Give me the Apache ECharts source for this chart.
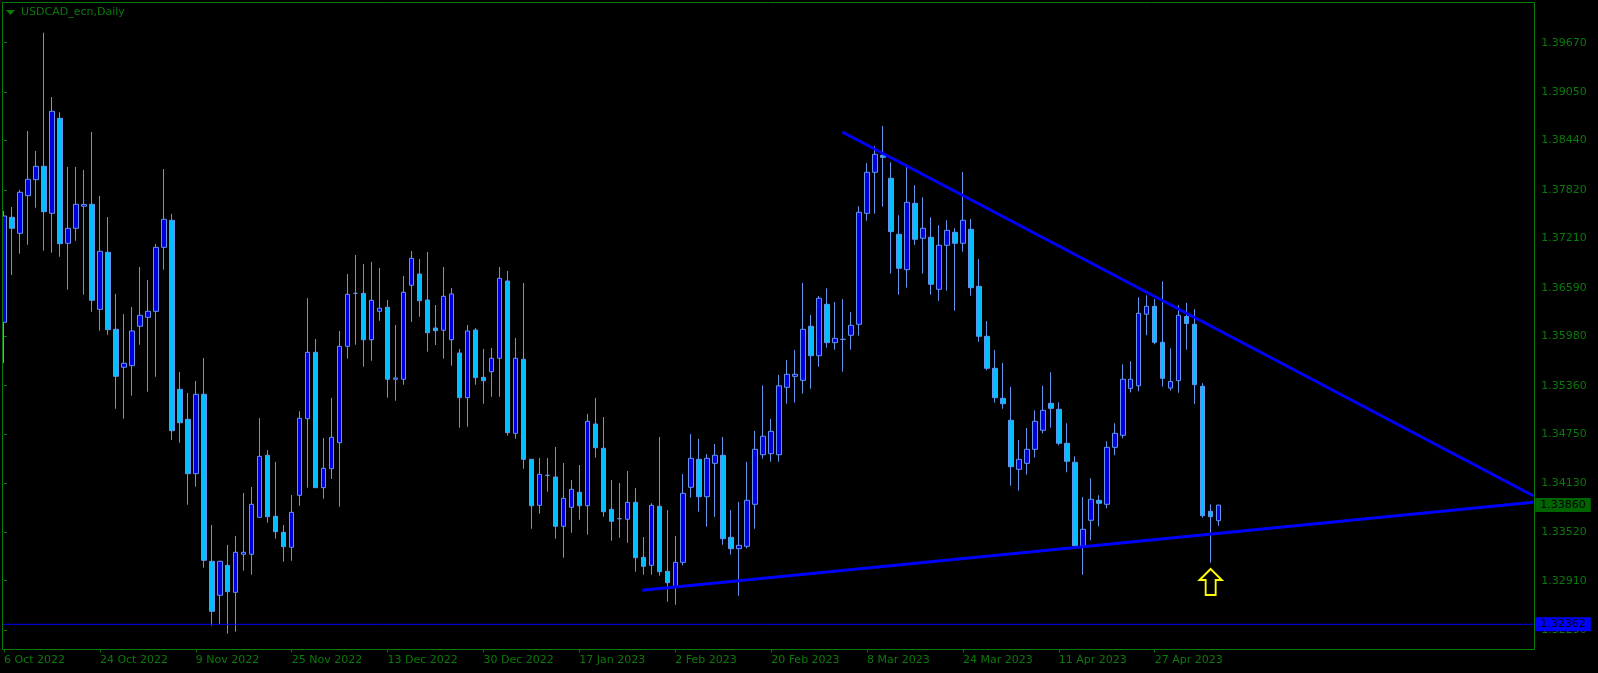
<!DOCTYPE html>
<html><head><meta charset="utf-8">
<script src="https://cdn.jsdelivr.net/npm/echarts@6/dist/echarts.min.js"></script>
<style>html,body{margin:0;padding:0;background:#000;}#c{width:1598px;height:673px;}</style>
</head><body><div id="c"></div>
<script>
const opens = [1.36157,1.37476,1.37275,1.37748,1.37949,1.38117,1.37527,1.38720,1.37150,1.37338,
1.37615,1.37640,1.36320,1.37037,1.36069,1.35592,1.35612,1.36107,1.36220,1.36295,
1.37099,1.37439,1.35315,1.34938,1.34255,1.35252,1.33154,1.32727,1.33103,1.32764,
1.33242,1.33242,1.33707,1.34486,1.33719,1.33518,1.33330,1.33983,1.34946,1.35780,
1.34079,1.34317,1.34644,1.35855,1.36521,1.36521,1.35938,1.36295,1.36346,1.35441,
1.35441,1.36622,1.36764,1.36437,1.36085,1.36057,1.35938,1.35771,1.35210,1.36060,
1.35466,1.35536,1.35705,1.36676,1.34762,1.35692,1.34435,1.33857,1.34234,1.34213,
1.33594,1.33832,1.34021,1.33852,1.34879,1.34574,1.33807,1.33689,1.33682,1.33895,
1.33204,1.33103,1.33845,1.33028,1.32835,1.33141,1.34084,1.34435,1.33965,1.34385,
1.34486,1.33455,1.33312,1.33342,1.33870,1.34493,1.34506,1.34493,1.35340,1.35478,
1.35428,1.36107,1.35737,1.36383,1.35901,1.35943,1.35994,1.36132,1.37527,1.38042,
1.38256,1.37967,1.37263,1.36818,1.37652,1.37213,1.37225,1.36572,1.37125,1.37288,
1.37150,1.37326,1.36609,1.35981,1.35579,1.35202,1.34926,1.34310,1.34385,1.34561,
1.34800,1.35139,1.35064,1.34637,1.34398,1.33350,1.33669,1.33920,1.33870,1.34586,
1.34737,1.35327,1.35359,1.36258,1.36358,1.35906,1.35331,1.35423,1.36230,1.36132,
1.35353,1.33782,1.33664];
const highs = [1.37556,1.37606,1.37820,1.38561,1.38310,1.39796,1.38988,1.38796,1.38109,1.38109,
1.38071,1.38548,1.37744,1.37480,1.36513,1.36261,1.36349,1.36852,1.36689,1.37141,
1.38083,1.37518,1.35532,1.35269,1.35419,1.35708,1.33610,1.33160,1.33359,1.33472,
1.34012,1.34087,1.34954,1.34552,1.34402,1.33610,1.33987,1.35039,1.36462,1.35947,
1.34703,1.35206,1.36048,1.36764,1.37003,1.36890,1.36915,1.36839,1.36437,1.36123,
1.36739,1.37053,1.36952,1.37040,1.36374,1.36852,1.36588,1.35822,1.36123,1.36085,
1.35822,1.35834,1.36852,1.36802,1.35960,1.36651,1.34435,1.34452,1.34452,1.34590,
1.34389,1.34175,1.34364,1.35005,1.35206,1.34967,1.34175,1.34138,1.34288,1.34075,
1.33459,1.33883,1.34716,1.33798,1.33472,1.34251,1.34753,1.34691,1.34502,1.34628,
1.34716,1.33798,1.33899,1.34402,1.34791,1.35363,1.34942,1.35495,1.35683,1.35809,
1.36651,1.36249,1.36488,1.36584,1.36412,1.36446,1.36286,1.37615,1.38155,1.38372,
1.38624,1.38168,1.37502,1.38142,1.37879,1.37728,1.37476,1.37376,1.37439,1.37338,
1.38046,1.37455,1.36949,1.36173,1.35809,1.35646,1.35346,1.34678,1.34829,1.35051,
1.35359,1.35529,1.35152,1.34888,1.34473,1.33962,1.34197,1.33983,1.34662,1.34888,
1.35629,1.35667,1.36471,1.36496,1.36446,1.36672,1.35830,1.36372,1.36400,1.36322,
1.35392,1.33870,1.33862];
const lows = [1.35642,1.36751,1.37019,1.37132,1.37597,1.37057,1.37032,1.36981,1.36567,1.37182,
1.36504,1.36290,1.36051,1.36001,1.35071,1.34946,1.35235,1.35876,1.35285,1.35473,
1.36818,1.34678,1.34644,1.33865,1.34091,1.33073,1.32345,1.32366,1.32244,1.32269,
1.33036,1.32985,1.33700,1.33639,1.33438,1.33149,1.33161,1.33852,1.34079,1.34075,
1.33940,1.34188,1.33840,1.35700,1.35876,1.35599,1.35674,1.36177,1.35210,1.35172,
1.35373,1.36161,1.36227,1.35788,1.35872,1.35700,1.35612,1.34833,1.34845,1.35373,
1.35134,1.35222,1.35222,1.34732,1.34694,1.34317,1.33563,1.33752,1.34028,1.33438,
1.33199,1.33513,1.33676,1.33488,1.34456,1.33714,1.33413,1.33450,1.33387,1.33023,
1.32985,1.32985,1.32973,1.32646,1.32608,1.33103,1.33953,1.33777,1.33589,1.33714,
1.33362,1.33237,1.32721,1.33317,1.33563,1.34443,1.34405,1.34405,1.35134,1.35147,
1.35260,1.35323,1.35599,1.35838,1.35813,1.35536,1.35813,1.35989,1.37434,1.37522,
1.37610,1.36768,1.36504,1.36592,1.37132,1.36768,1.36504,1.36428,1.36554,1.36303,
1.37044,1.36491,1.35913,1.35554,1.35147,1.35071,1.34104,1.34041,1.34242,1.34456,
1.34762,1.34833,1.34611,1.34272,1.33346,1.32985,1.33418,1.33594,1.33820,1.34486,
1.34699,1.35277,1.35290,1.35994,1.35881,1.35348,1.35298,1.35272,1.35813,1.35128,
1.33702,1.33136,1.33601];
const closes = [1.37493,1.37338,1.37791,1.37954,1.38117,1.37547,1.38808,1.37145,1.37338,1.37640,
1.37637,1.36433,1.37049,1.36064,1.35478,1.35642,1.36048,1.36245,1.36295,1.37099,
1.37451,1.34795,1.34895,1.34255,1.35252,1.33166,1.32525,1.33154,1.32772,1.33267,
1.33267,1.33870,1.34473,1.33714,1.33526,1.33337,1.33769,1.34951,1.35780,1.34079,
1.34322,1.34712,1.35855,1.36509,1.36521,1.35938,1.36433,1.36333,1.35441,1.35457,
1.36534,1.36961,1.36428,1.36026,1.36051,1.36484,1.36513,1.35210,1.36048,1.35461,
1.35423,1.35705,1.36710,1.34770,1.35705,1.34435,1.33852,1.34247,1.34234,1.33594,
1.33945,1.34058,1.33852,1.34913,1.34581,1.33777,1.33656,1.33689,1.33895,1.33199,
1.33091,1.33857,1.33023,1.32885,1.33141,1.34008,1.34448,1.33965,1.34448,1.34486,
1.33438,1.33312,1.33355,1.33920,1.34561,1.34725,1.34787,1.35359,1.35504,1.35504,
1.36069,1.35737,1.36459,1.35901,1.35956,1.35943,1.36119,1.37539,1.38042,1.38268,
1.38230,1.37296,1.36836,1.37665,1.37200,1.37338,1.36635,1.37125,1.37313,1.37150,
1.37439,1.36592,1.35981,1.35579,1.35210,1.35134,1.34342,1.34435,1.34561,1.34913,
1.35051,1.35076,1.34637,1.34410,1.33350,1.33556,1.33933,1.33883,1.34586,1.34762,
1.35441,1.35441,1.36270,1.36358,1.35906,1.35453,1.35413,1.36245,1.36142,1.35373,
1.33727,1.33714,1.33860];
const tickLabels = ['6 Oct 2022','24 Oct 2022','9 Nov 2022','25 Nov 2022','13 Dec 2022','30 Dec 2022','17 Jan 2023','2 Feb 2023','20 Feb 2023','8 Mar 2023','24 Mar 2023','11 Apr 2023','27 Apr 2023'];
const yTicks = [1.39670,1.39050,1.38440,1.37820,1.37210,1.36590,1.35980,1.35360,1.34750,1.34130,1.33520,1.32910,1.32290];
const upperTrendX = [104.9, 191.37];
const upperTrendY = [1.38548, 1.33978];
const lowerTrendX = [79.875, 191.37];
const lowerTrendY = [1.32789, 1.33895];
const supportLevel = 1.32362;
const bidPrice = 1.33860;
const arrowIndex = 151;
const arrowPrice = 1.32894;
const totalSlots = 192;

const GREEN = '#0a7a0a';
const FONT = 'DejaVu Sans';
const RIGHT_EDGE = 191.375;
const cats = [];
for (let i = 0; i < totalSlots; i++) cats.push(String(i));
const candleData = opens.map((o, i) => [o, closes[i], lows[i], highs[i]]);
const tickShow = (i) => i % 12 === 0 && i / 12 < tickLabels.length;

function priceTag(bg) {
  return {show: true, formatter: (p) => p.value[1].toFixed(5), distance: 2, backgroundColor: bg,
    color: '#000', fontFamily: FONT, fontSize: 11, lineHeight: 12, padding: [1, 5, 1, 5], align: 'left', verticalAlign: 'middle'};
}

const chart = echarts.init(document.getElementById('c'), null, {renderer: 'canvas'});
chart.setOption({
  backgroundColor: '#000',
  animation: false,
  grid: {left: -0.7, top: 2.3, width: 1535, height: 647},
  xAxis: [{
    type: 'category', data: cats, boundaryGap: true,
    axisLine: {show: false},
    axisTick: {show: true, interval: (i) => tickShow(i), alignWithLabel: true, length: 3, lineStyle: {color: GREEN}},
    axisLabel: {interval: (i) => tickShow(i), formatter: (v, i) => tickShow(i) ? tickLabels[i / 12] : '',
      color: GREEN, fontFamily: FONT, fontSize: 11, align: 'left', margin: 5},
    splitLine: {show: false}
  }, {
    type: 'value', min: -0.5, max: totalSlots - 0.5, show: false
  }],
  yAxis: {
    type: 'value', position: 'right', min: 1.32048, max: 1.40178,
    axisLine: {show: false},
    axisTick: {show: true, customValues: yTicks, length: 3, lineStyle: {color: GREEN}},
    axisLabel: {customValues: yTicks, formatter: (v) => v.toFixed(5), color: GREEN, fontFamily: FONT, fontSize: 11, margin: 7},
    splitLine: {show: false}
  },
  series: [{
    type: 'candlestick', data: candleData, barWidth: 5,
    itemStyle: {color: '#0000DD', color0: '#00BFFF', borderColor: '#6495ED', borderColor0: '#6495ED', borderColorDoji: '#6495ED', borderWidth: 1},
    markPoint: {
      silent: true, animation: false,
      data: [{coord: [String(arrowIndex), arrowPrice], symbol: 'path://M11 0 L22 11 L16 11 L16 26 L6 26 L6 11 L0 11 Z',
        symbolSize: [22, 26], itemStyle: {color: 'rgba(0,0,0,0)', borderColor: '#FFFF00', borderWidth: 2}, label: {show: false}}]
    }
  }, {
    type: 'line', xAxisIndex: 1, yAxisIndex: 0, symbol: 'none', z: 3,
    data: upperTrendX.map((x, i) => [x, upperTrendY[i]]),
    lineStyle: {color: '#0000FF', width: 3}
  }, {
    type: 'line', xAxisIndex: 1, yAxisIndex: 0, symbol: 'none', z: 3,
    data: lowerTrendX.map((x, i) => [x, lowerTrendY[i]]),
    lineStyle: {color: '#0000FF', width: 3}
  }, {
    type: 'line', xAxisIndex: 1, yAxisIndex: 0, symbol: 'none', z: 4, clip: false, silent: true,
    data: [[-0.5, supportLevel], [RIGHT_EDGE, supportLevel]],
    lineStyle: {color: '#0000FF', width: 1},
    endLabel: priceTag('#0000FF')
  }, {
    type: 'line', xAxisIndex: 1, yAxisIndex: 0, symbol: 'none', z: 4, clip: false, silent: true,
    data: [[RIGHT_EDGE - 0.01, bidPrice], [RIGHT_EDGE, bidPrice]],
    lineStyle: {color: '#006400', width: 0, opacity: 0},
    endLabel: priceTag('#006400')
  }],
  graphic: [
    {type: 'rect', silent: true, z: 50, shape: {x: 0, y: 0, width: 2, height: 673}, style: {fill: '#000'}},
    {type: 'rect', silent: true, z: 51, shape: {x: 2.5, y: 2.5, width: 1532, height: 647}, style: {fill: null, stroke: GREEN, lineWidth: 1}},
    {type: 'polygon', silent: true, z: 51, shape: {points: [[6, 10], [15, 10], [10.5, 15]]}, style: {fill: GREEN}},
    {type: 'text', silent: true, z: 51, x: 21, y: 12, style: {text: 'USDCAD_ecn,Daily', fill: GREEN, font: '11px "DejaVu Sans"', textVerticalAlign: 'middle'}}
  ]
});
</script>
</body></html>
